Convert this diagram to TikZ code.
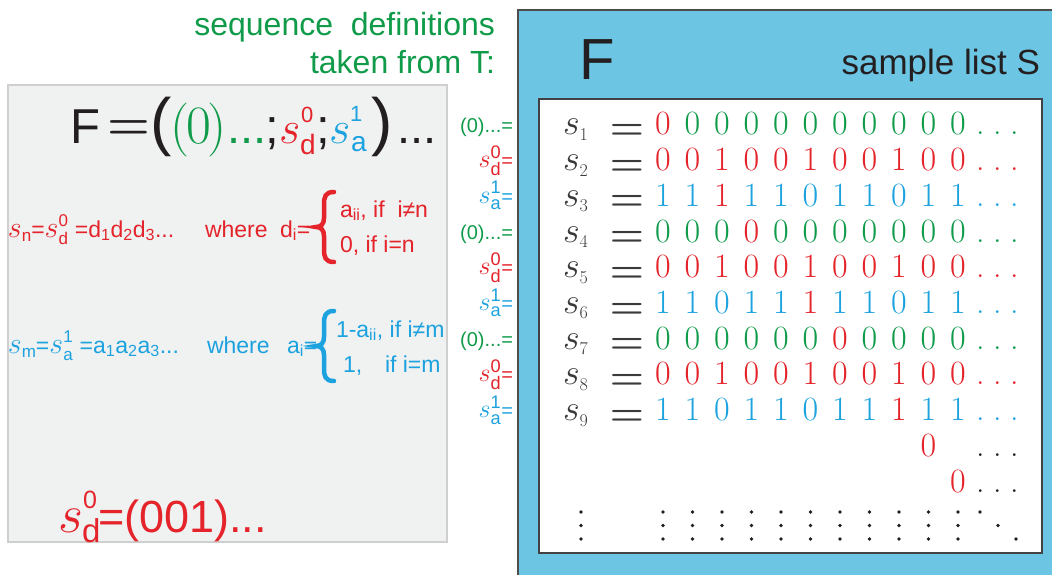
\RequirePackage{fix-cm}
\documentclass[tikz,border=0pt]{standalone}
\usepackage{fontspec}
\usepackage{amsmath}
\newfontfamily\arial{Liberation Sans}
\definecolor{myred}{HTML}{E4232A}
\definecolor{mygreen}{HTML}{0F9B49}
\definecolor{myblue}{HTML}{1CA2DF}
\definecolor{boxblue}{HTML}{6CC5E3}
\definecolor{boxgray}{HTML}{F0F1F1}
\definecolor{graybord}{HTML}{CFCFCF}
\definecolor{ink}{HTML}{231F20}
\definecolor{listink}{HTML}{3A3A3A}
\newcommand\sfx[1]{\text{\arial #1}}
\newcommand\fs[1]{\fontsize{#1}{#1}\selectfont}
\newcommand\mySsd[2]{s^{\sfx{#1}}_{\sfx{#2}}}
\newcommand\defS[2]{{\fs{30}$s^{\text{\arial\fs{17}#1}}_{\text{\arial\fs{17}#2}}$}}
\newcommand\defs{{\fs{30}$s$}}
\newcommand\sub[1]{\raisebox{-4pt}{\fs{17}#1}}
\newcommand\digrow[3]{%
  \pgfmathsetmacro\rowy{135+35.7*(#1-1)}
  \foreach \dg/\cl [count=\k] in {#2}{
    \node[dig,text=\cl] (d#1c\k) at ({663+29.5*(\k-1)},\rowy) {\dg};
  }
  \node[tx,text=#3,font=\fs{34}] (e#1) at (976,\rowy) {.\hspace{8.5pt}.\hspace{8.5pt}.};
}
\begin{document}
\begin{tikzpicture}[x=1pt,y=-1pt,
  tx/.style={anchor=base west,inner sep=0pt,outer sep=0pt},
  txe/.style={anchor=base east,inner sep=0pt,outer sep=0pt},
  dig/.style={anchor=base,inner sep=0pt,outer sep=0pt,font=\fs{34}},
  lbl/.style={anchor=base east,inner sep=0pt,outer sep=0pt,font=\arial\fs{20}},
  brace/.style={line width=4.5pt,line cap=round}]
\fill[white] (0,0) rectangle (1052,575);
\useasboundingbox (0,0) rectangle (1052,575);
% boxes
\draw[graybord,fill=boxgray,line width=1.5pt] (8,85) rectangle (447,542);
\fill[boxblue] (518,10) rectangle (1052,575);
\draw[ink!80,line width=2pt] (518,575) -- (518,10) -- (1052,10);
\draw[ink!85,line width=2.5pt,fill=white] (539,99) rectangle (1042,553);
% headings
\node[txe,text=mygreen,font=\arial\fs{32}] (h1) at (495,36) {sequence\ \ definitions};
\node[txe,text=mygreen,font=\arial\fs{32}] (h2) at (495,74) {taken from T:};
\node[tx,text=ink,font=\arial\fs{58}] (bigF) at (579,80) {F};
\node[txe,text=ink,font=\arial\fs{35}] (slist) at (1040,75) {sample list S};
% top formula
\node[tx,text=ink,font=\arial\fs{49}] (fF) at (70,143) {F};
\node[tx,text=ink,font=\fs{49}] (feq) at (107,139.5) {$\boldsymbol{=}$};
\node[tx,text=ink,font=\arial\fs{64}] (fpl) at (150,143) {(};
\node[tx,text=mygreen,font=\fs{54}] (f0) at (170,143) {(\kern-3pt0\kern-3pt)};
\node[tx,text=mygreen,font=\arial\fs{47}] (fd1) at (227,143) {...};
\node[tx,text=ink,font=\arial\fs{49}] (fs1) at (265,143) {;};
\node[tx,text=myred,font=\fs{46}] (fsd) at (279,143) {$s$};
\node[tx,text=myred,font=\arial\fs{22}] (fsd0) at (301,123) {0};
\node[tx,text=myred,font=\arial\fs{28}] (fsdd) at (300,154) {d};
\node[tx,text=ink,font=\arial\fs{49}] (fs2) at (316,143) {;};
\node[tx,text=myblue,font=\fs{46}] (fsa) at (329,143) {$s$};
\node[tx,text=myblue,font=\arial\fs{22}] (fsa1) at (350,122) {1};
\node[tx,text=myblue,font=\arial\fs{28}] (fsaa) at (351,152) {a};
\node[tx,text=ink,font=\arial\fs{64}] (fpr) at (371,143) {)};
\node[tx,text=ink,font=\arial\fs{47}] (fd2) at (397,143) {...};
% red definition
\node[tx,text=myred,font=\arial\fs{23}] (rdef) at (8,237) {\defs\sub{n}=\defS{0}{d} =d\textsubscript{1}d\textsubscript{2}d\textsubscript{3}...};
\node[tx,text=myred,font=\arial\fs{23}] (rwh) at (205,237) {where};
\node[tx,text=myred,font=\arial\fs{23}] (rdi) at (280,237) {d\textsubscript{i}=};
\draw[brace,myred] (334,192) .. controls (325,192) and (324,197) .. (324,205) -- (324,218) .. controls (324,224) and (321,227) .. (316,227) .. controls (321,227) and (324,230) .. (324,236) -- (324,249) .. controls (324,257) and (325,262) .. (334,262);
\node[tx,text=myred,font=\arial\fs{23}] (rc1) at (340,217) {a\textsubscript{ii}, if\ \ i≠n};
\node[tx,text=myred,font=\arial\fs{23}] (rc2) at (340,252) {0, if i=n};
% blue definition
\node[tx,text=myblue,font=\arial\fs{23}] (bdef) at (8,353) {\defs\sub{m}=\defS{1}{a} =a\textsubscript{1}a\textsubscript{2}a\textsubscript{3}...};
\node[tx,text=myblue,font=\arial\fs{23}] (bwh) at (207,353) {where};
\node[tx,text=myblue,font=\arial\fs{23}] (bai) at (287,353) {a\textsubscript{i}=};
\draw[brace,myblue] (334,311) .. controls (325,311) and (324,316) .. (324,324) -- (324,337) .. controls (324,343) and (321,346) .. (316,346) .. controls (321,346) and (324,349) .. (324,355) -- (324,368) .. controls (324,376) and (325,381) .. (334,381);
\node[tx,text=myblue,font=\arial\fs{23}] (bc1) at (336,337) {1-a\textsubscript{ii}, if i≠m};
\node[tx,text=myblue,font=\arial\fs{23}] (bc2a) at (343,372) {1,};
\node[tx,text=myblue,font=\arial\fs{23}] (bc2b) at (385,372) {if i=m};
% bottom
\node[tx,text=myred,font=\fs{54}] (bs) at (58,532) {$s$};
\node[tx,text=myred,font=\arial\fs{25}] (bs0) at (83,508) {0};
\node[tx,text=myred,font=\arial\fs{33}] (bsd) at (82,542) {d};
\node[tx,text=myred,font=\arial\fs{45}] (bsr) at (98,532) {=(001)...};
% list rows
\foreach \i in {1,...,9}{
  \pgfmathsetmacro\rowy{135+35.7*(\i-1)}
  \node[tx,text=listink,font=\fs{36}] (s\i) at (563,\rowy) {$s_{\scriptscriptstyle\i}$};
  \node[anchor=base,inner sep=0pt,text=listink,font=\fs{39}] (eq\i) at (627,\rowy+4.5) {$\boldsymbol{=}$};
}
\foreach \i in {1,4,7}{
  \pgfmathsetmacro\rowy{135+35.7*(\i-1)-3}
  \node[lbl,text=mygreen] (l\i) at (513,\rowy) {(0)...=};
}
\foreach \i in {2,5,8}{
  \pgfmathsetmacro\rowy{135+35.7*(\i-1)-3}
  \node[lbl,text=myred] (l\i) at (513,\rowy) {{\fs{26}$\mySsd{0}{d}$}=};
}
\foreach \i in {3,6,9}{
  \pgfmathsetmacro\rowy{135+35.7*(\i-1)-3}
  \node[lbl,text=myblue] (l\i) at (513,\rowy) {{\fs{26}$\mySsd{1}{a}$}=};
}
% digits
\digrow{1}{0/myred,0/mygreen,0/mygreen,0/mygreen,0/mygreen,0/mygreen,0/mygreen,0/mygreen,0/mygreen,0/mygreen,0/mygreen}{mygreen}
\digrow{2}{0/myred,0/myred,1/myred,0/myred,0/myred,1/myred,0/myred,0/myred,1/myred,0/myred,0/myred}{myred}
\digrow{3}{1/myblue,1/myblue,1/myred,1/myblue,1/myblue,0/myblue,1/myblue,1/myblue,0/myblue,1/myblue,1/myblue}{myblue}
\digrow{4}{0/mygreen,0/mygreen,0/mygreen,0/myred,0/mygreen,0/mygreen,0/mygreen,0/mygreen,0/mygreen,0/mygreen,0/mygreen}{mygreen}
\digrow{5}{0/myred,0/myred,1/myred,0/myred,0/myred,1/myred,0/myred,0/myred,1/myred,0/myred,0/myred}{myred}
\digrow{6}{1/myblue,1/myblue,0/myblue,1/myblue,1/myblue,1/myred,1/myblue,1/myblue,0/myblue,1/myblue,1/myblue}{myblue}
\digrow{7}{0/mygreen,0/mygreen,0/mygreen,0/mygreen,0/mygreen,0/mygreen,0/myred,0/mygreen,0/mygreen,0/mygreen,0/mygreen}{mygreen}
\digrow{8}{0/myred,0/myred,1/myred,0/myred,0/myred,1/myred,0/myred,0/myred,1/myred,0/myred,0/myred}{myred}
\digrow{9}{1/myblue,1/myblue,0/myblue,1/myblue,1/myblue,0/myblue,1/myblue,1/myblue,1/myred,1/myblue,1/myblue}{myblue}
\node[dig,text=myred] (d10) at ({663+29.5*9},{135+35.7*9}) {0};
\node[tx,text=ink,font=\fs{34}] (e10) at (976,{135+35.7*9}) {.\hspace{8.5pt}.\hspace{8.5pt}.};
\node[dig,text=myred] (d11) at ({663+29.5*10},{135+35.7*10}) {0};
\node[tx,text=ink,font=\fs{34}] (e11) at (976,{135+35.7*10}) {.\hspace{8.5pt}.\hspace{8.5pt}.};
% vertical dots
\foreach \x in {581,663,692.5,722,751.5,781,810.5,840,869.5,899,928.5,958}{
  \foreach \y in {512,525.5,539}{
    \fill[ink] (\x,\y) circle (1.9);
  }
}
\fill[ink] (980,512) circle (1.9);
\fill[ink] (998,525.5) circle (1.9);
\fill[ink] (1016,539) circle (1.9);
\end{tikzpicture}
\end{document}
